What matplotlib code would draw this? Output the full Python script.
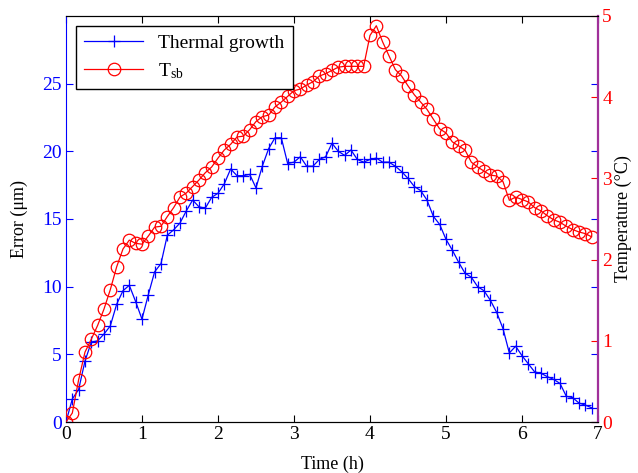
import numpy as np
import matplotlib
matplotlib.use("Agg")
import matplotlib.pyplot as plt

plt.rcParams['font.family'] = ['Liberation Serif', 'DejaVu Serif']
plt.rcParams['mathtext.fontset'] = 'stix'

# samples every 5 minutes
time_h = np.arange(84) / 12.0

thermal_growth = [
    0, 1.7, 2.4, 4.5, 5.9, 6.0, 6.5, 7.1, 8.7, 9.7,
    10.1, 8.9, 7.6, 9.4, 11.1, 11.7, 13.8, 14.2, 14.7, 15.6,
    16.4, 15.9, 15.8, 16.6, 16.9, 17.6, 18.7, 18.2, 18.2, 18.3,
    17.3, 18.9, 20.2, 21.0, 21.0, 19.1, 19.2, 19.6, 18.9, 18.9,
    19.4, 19.6, 20.6, 20.0, 19.7, 20.1, 19.4, 19.2, 19.4, 19.5,
    19.2, 19.2, 18.9, 18.5, 18.0, 17.4, 17.1, 16.4, 15.2, 14.6,
    13.5, 12.7, 11.8, 11.0, 10.7, 10.0, 9.7, 9.0, 8.1, 6.9,
    5.1, 5.6, 4.9, 4.3, 3.7, 3.6, 3.35, 3.15, 2.85, 1.9,
    1.8, 1.4, 1.25, 1.05,
]

t_sb = [
    0, 0.11, 0.52, 0.86, 1.02, 1.19, 1.39, 1.63, 1.91, 2.13,
    2.24, 2.20, 2.19, 2.29, 2.40, 2.41, 2.53, 2.64, 2.77, 2.82,
    2.90, 2.98, 3.07, 3.14, 3.25, 3.35, 3.42, 3.51, 3.52, 3.60,
    3.70, 3.76, 3.78, 3.88, 3.94, 4.01, 4.08, 4.10, 4.15, 4.19,
    4.26, 4.29, 4.33, 4.37, 4.38, 4.38, 4.38, 4.38, 4.76, 4.88,
    4.68, 4.51, 4.34, 4.26, 4.14, 4.03, 3.94, 3.85, 3.73, 3.61,
    3.56, 3.45, 3.40, 3.35, 3.20, 3.14, 3.09, 3.04, 3.03, 2.96,
    2.73, 2.77, 2.74, 2.71, 2.64, 2.60, 2.54, 2.49, 2.46, 2.41,
    2.37, 2.34, 2.32, 2.28,
]

fig = plt.figure(figsize=(6.38, 4.73), dpi=100)
ax1 = fig.add_axes([0.1034, 0.1078, 0.8339, 0.8584])
ax2 = ax1.twinx()

l1, = ax1.plot(time_h, thermal_growth, color='blue', lw=0.9, marker='+',
               ms=8, mew=0.9, label='Thermal growth')
l2, = ax2.plot(time_h, t_sb, color='red', lw=0.9, marker='o', ms=9,
               mfc='none', mew=0.9, label=r'T$_\mathregular{sb}$')

ax1.set_xlim(0, 7)
ax1.set_ylim(0, 30)
ax2.set_ylim(0, 5)
ax1.set_xticks(range(8))
ax1.set_yticks([0, 5, 10, 15, 20, 25])
ax2.set_yticks([0, 1, 2, 3, 4, 5])

fs = 14
ax1.tick_params(axis='x', direction='in', length=5, labelsize=fs, top=True,
                colors='black', pad=3)
ax1.tick_params(axis='y', direction='in', length=5, labelsize=fs, right=True,
                colors='blue', pad=3)
ax2.tick_params(axis='y', direction='in', length=5, labelsize=fs,
                colors='red', pad=3)

ax1.spines['left'].set_color('blue')
ax2.spines['left'].set_visible(False)
ax1.spines['right'].set_visible(False)
ax2.spines['right'].set_color('#a0309a')
ax2.spines['right'].set_linewidth(1.6)

ax1.set_xlabel('Time (h)', fontsize=13, labelpad=9)
ax1.set_ylabel('Error (μm)', fontsize=13, labelpad=10)
ax2.set_ylabel('Temperature (°C)', fontsize=13, labelpad=2)

leg = ax2.legend(handles=[l1, l2], loc='upper left', fontsize=14,
                 fancybox=False, edgecolor='black', framealpha=1,
                 borderaxespad=0.5, handlelength=3.0, borderpad=0.45,
                 labelspacing=0.45)
leg.get_frame().set_linewidth(1.0)

fig.savefig('out.png', dpi=100)
